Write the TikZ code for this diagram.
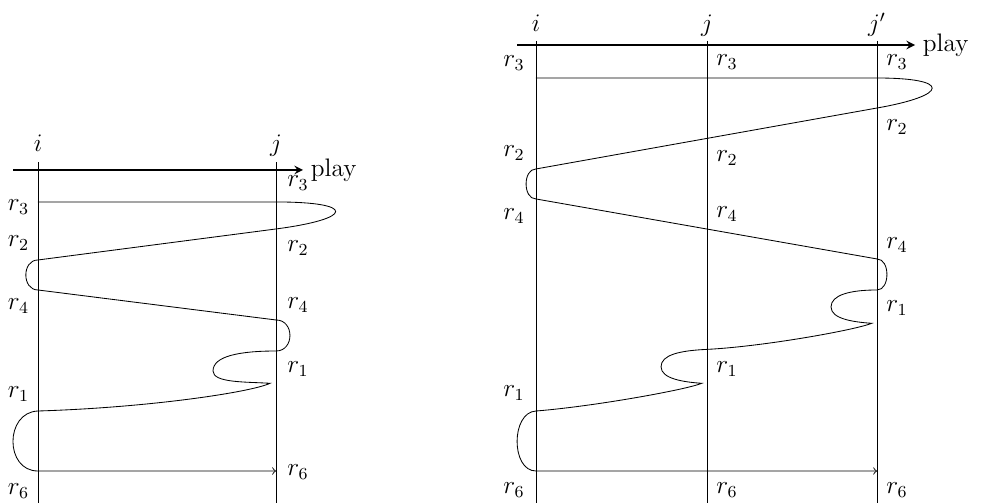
\documentclass[tikz,border=0pt]{standalone}
\usepackage{amsmath,amssymb}
\usepackage{tikz}

\begin{document}
\begin{tikzpicture}[font=\large]
 \useasboundingbox (0,0) rectangle (16.35,8.383);
 \coordinate (Lit) at (0.633,5.683);
 \coordinate (Lib) at (0.633,0);
 \coordinate (Ljt) at (4.6,5.683);
 \coordinate (Ljb) at (4.6,0);
 \draw (Lit) -- (Lib);
 \draw (Ljt) -- (Ljb);
 \node[anchor=base] (Llabi) at (0.633,5.85) {\(i\)};
 \node[anchor=base] (Llabj) at (4.6,5.85) {\(j\)};
 \coordinate (Lps) at (0.217,5.55);
 \coordinate (Lpe) at (5.05,5.55);
 \draw[thick,-stealth] (Lps) -- (Lpe) node[right] (Lplay) {play};
 \coordinate (Li3) at (0.633,5.017);
 \coordinate (Lj3) at (4.6,5.017);
 \coordinate (Lj2) at (4.6,4.567);
 \coordinate (Li2) at (0.633,4.05);
 \coordinate (Li4) at (0.633,3.55);
 \coordinate (Lj4) at (4.6,3.05);
 \coordinate (Lj1) at (4.6,2.533);
 \coordinate (Li1) at (0.633,1.533);
 \coordinate (Li6) at (0.633,0.533);
 \coordinate (Lj6) at (4.6,0.533);
 \draw[->] (Li3) -- (Lj3) .. controls +(1.35,0) and +(1.3,0.17) .. (Lj2) -- (Li2)
  .. controls +(-0.27,0) and +(-0.27,0) .. (Li4) -- (Lj4)
  .. controls +(0.31,0) and +(0.31,0) .. (Lj1)
  .. controls +(-0.6,0) and +(0,0.25) .. (3.55,2.2)
  .. controls +(0,-0.2) and +(-0.4,0.025) .. (4.5,1.995)
  .. controls +(-0.3,-0.145) and +(1.867,0.057) .. (Li1)
  .. controls +(-0.556,-0.02) and +(-0.556,0) .. (Li6) -- (Lj6);
 \node (Lr3i) at (0.308,4.933) {\(r_3\)};
 \node (Lr2i) at (0.308,4.333) {\(r_2\)};
 \node (Lr4i) at (0.308,3.283) {\(r_4\)};
 \node (Lr1i) at (0.308,1.817) {\(r_1\)};
 \node (Lr6i) at (0.308,0.2) {\(r_6\)};
 \node (Lr3j) at (4.967,5.333) {\(r_3\)};
 \node (Lr2j) at (4.967,4.25) {\(r_2\)};
 \node (Lr4j) at (4.967,3.3) {\(r_4\)};
 \node (Lr1j) at (4.967,2.233) {\(r_1\)};
 \node (Lr6j) at (4.967,0.517) {\(r_6\)};

 \coordinate (Rit) at (8.933,7.7);
 \coordinate (Rib) at (8.933,0);
 \coordinate (Rjt) at (11.783,7.7);
 \coordinate (Rjb) at (11.783,0);
 \coordinate (Rkt) at (14.617,7.7);
 \coordinate (Rkb) at (14.617,0);
 \draw (Rit) -- (Rib);
 \draw (Rjt) -- (Rjb);
 \draw (Rkt) -- (Rkb);
 \node[anchor=base] (Rlabi) at (8.933,7.85) {\(i\)};
 \node[anchor=base] (Rlabj) at (11.783,7.85) {\(j\)};
 \node[anchor=base] (Rlabk) at (14.617,7.85) {\(j'\)};
 \coordinate (Rps) at (8.617,7.633);
 \coordinate (Rpe) at (15.25,7.633);
 \draw[thick,-stealth] (Rps) -- (Rpe) node[right] (Rplay) {play};
 \coordinate (Ri3) at (8.933,7.083);
 \coordinate (Rk3) at (14.617,7.083);
 \coordinate (Rk2) at (14.617,6.583);
 \coordinate (Ri2) at (8.933,5.567);
 \coordinate (Ri4) at (8.933,5.067);
 \coordinate (Rk4) at (14.617,4.067);
 \coordinate (Rk1) at (14.617,3.55);
 \coordinate (Rj1) at (11.783,2.56);
 \coordinate (Ri1) at (8.933,1.533);
 \coordinate (Ri6) at (8.933,0.533);
 \coordinate (Rk6) at (14.617,0.533);
 \draw[->] (Ri3) -- (Rk3) .. controls +(1.25,0) and +(1.2,0.21) .. (Rk2) -- (Ri2)
  .. controls +(-0.22,0) and +(-0.22,0) .. (Ri4) -- (Rk4)
  .. controls +(0.22,0) and +(0.22,0) .. (Rk1)
  .. controls +(-0.45,0) and +(0,0.2) .. (13.85,3.267)
  .. controls +(0,-0.2) and +(-0.3,0.02) .. (14.528,2.995)
  .. controls +(-0.245,-0.105) and +(0.967,0.05) .. (Rj1)
  .. controls +(-0.45,-0.02) and +(0,0.2) .. (11.017,2.27)
  .. controls +(0,-0.2) and +(-0.3,0.02) .. (11.695,1.995)
  .. controls +(-0.245,-0.105) and +(0.967,0.077) .. (Ri1)
  .. controls +(-0.42,-0.02) and +(-0.42,0) .. (Ri6) -- (Rk6);
 \node (Rr3i) at (8.567,7.333) {\(r_3\)};
 \node (Rr2i) at (8.567,5.833) {\(r_2\)};
 \node (Rr4i) at (8.567,4.783) {\(r_4\)};
 \node (Rr1i) at (8.567,1.833) {\(r_1\)};
 \node (Rr6i) at (8.567,0.217) {\(r_6\)};
 \node (Rr3j) at (12.117,7.35) {\(r_3\)};
 \node (Rr2j) at (12.117,5.75) {\(r_2\)};
 \node (Rr4j) at (12.117,4.817) {\(r_4\)};
 \node (Rr1j) at (12.117,2.233) {\(r_1\)};
 \node (Rr6j) at (12.117,0.217) {\(r_6\)};
 \node (Rr3k) at (14.95,7.35) {\(r_3\)};
 \node (Rr2k) at (14.95,6.267) {\(r_2\)};
 \node (Rr4k) at (14.95,4.3) {\(r_4\)};
 \node (Rr1k) at (14.95,3.25) {\(r_1\)};
 \node (Rr6k) at (14.95,0.217) {\(r_6\)};
\end{tikzpicture}
\end{document}
